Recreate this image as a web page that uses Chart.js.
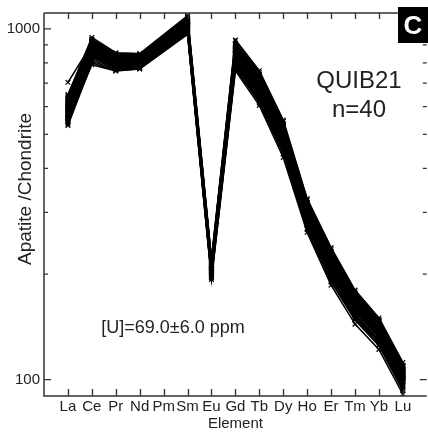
<!DOCTYPE html>
<html>
<head>
<meta charset="utf-8">
<script src="https://cdn.jsdelivr.net/npm/chart.js@4/dist/chart.umd.min.js"></script>
<style>
html,body{margin:0;padding:0;background:#fff;overflow:hidden;}
#wrap{width:432px;height:433px;}
</style>
</head>
<body>
<div id="wrap"><canvas id="c" width="432" height="433" style="width:432px;height:433px"></canvas></div>
<script>
// Categories (chondrite-normalised REE order); Pm has no analyses
const elements = ['La','Ce','Pr','Nd','Pm','Sm','Eu','Gd','Tb','Dy','Ho','Er','Tm','Yb','Lu'];
// y tick values (labelled: 100 and 1000)
const yTicks = [100,200,300,400,500,600,700,800,900,1000];
const yLabels = [100,1000];

// 40 spot analyses, one array per element (index = spot)
const La = [704,650,560,575,620,545,600,590,530,635,555,610,580,540,625,565,595,550,640,585,570,605,535,615,560,590,630,575,548,600,580,615,555,595,645,565,585,620,545,600];
const Ce = [905,935,880,860,900,840,915,870,800,925,850,890,865,830,910,855,880,820,920,875,862,895,810,900,845,885,930,858,835,888,870,905,848,878,945,852,872,912,790,892];
const Pr = [840,850,790,805,820,780,835,800,760,845,785,815,795,775,830,790,810,770,840,805,798,822,765,828,782,812,842,796,778,818,800,826,788,808,855,792,804,832,758,820];
const Nd = [830,845,800,810,815,790,825,805,770,840,795,820,800,785,830,800,812,780,838,808,803,818,775,826,792,810,836,802,788,815,806,822,796,811,850,798,807,828,768,817];
const Pm = [];
const Sm = [1050,1085,1010,1030,1040,990,1060,1020,970,1070,1000,1045,1015,985,1055,1005,1035,980,1065,1025,1012,1048,975,1052,998,1032,1075,1018,992,1042,1022,1050,1003,1028,1090,1008,1024,1058,965,1045];
const Eu = [215,220,205,208,212,198,214,206,195,218,202,210,204,199,213,203,209,197,216,207,205,211,196,212,201,208,217,204,200,210,206,212,202,208,221,203,207,214,193,211];
const Gd = [880,925,850,830,870,800,890,845,770,905,815,860,835,790,880,825,855,785,895,850,838,865,775,872,810,848,910,832,798,862,842,875,818,852,930,822,846,884,760,868];
const Tb = [720,750,690,670,705,650,725,680,615,735,660,700,675,640,712,668,692,630,728,686,677,703,622,708,655,688,740,672,645,698,682,710,662,690,760,665,684,716,605,702];
const Dy = [520,545,500,485,510,470,525,492,440,530,478,505,488,462,515,482,498,455,528,495,490,508,448,512,474,496,535,486,466,503,492,513,479,497,550,480,494,518,430,506];
const Ho = [312,325,300,290,305,283,315,296,268,318,288,303,293,278,308,290,299,275,316,297,294,304,270,306,285,298,320,292,280,301,295,307,287,298,328,289,296,310,263,302];
const Er = [225,235,216,210,220,203,228,213,190,230,207,218,211,198,222,208,215,196,229,214,212,219,192,221,205,214,232,210,200,217,213,221,206,215,238,208,214,224,186,218];
const Tm = [172,178,165,160,168,155,173,162,148,175,158,166,161,152,170,159,164,150,174,163,161,167,149,169,157,163,176,160,153,165,162,168,158,164,180,159,163,171,144,166];
const Yb = [145,148,140,136,142,132,146,138,125,147,134,141,137,129,144,135,139,128,147,138,137,141,126,143,133,138,148,136,130,140,137,143,134,139,150,135,138,145,122,141];
const Lu = [108,110,104,101,106,98,109,102,93,109,99,105,101,96,107,100,103,95,108,102,101,105,94,106,99,103,110,101,97,104,102,106,99,103,112,100,102,107,91,105];

const byElement = {La,Ce,Pr,Nd,Pm,Sm,Eu,Gd,Tb,Dy,Ho,Er,Tm,Yb,Lu};
const nSpots = La.length;

const datasets = [];
for (let i = 0; i < nSpots; i++) {
  datasets.push({
    data: elements.map((el, j) => ({x: j + 1, y: byElement[el][i] !== undefined ? byElement[el][i] : null})),
    borderColor: '#000',
    backgroundColor: '#000',
    borderWidth: 1.6,
    pointStyle: 'crossRot',
    pointRadius: 3.3,
    pointBorderWidth: 1.2,
    pointBorderColor: '#000',
    spanGaps: true,
    tension: 0
  });
}

const FONT = "'Liberation Sans', Arial, sans-serif";
const AX = '#333';

const deco = {
  id: 'deco',
  afterDatasetsDraw(chart) {
    const ctx = chart.ctx;
    const a = chart.chartArea;
    const xs = chart.scales.x, ys = chart.scales.y;
    const rightX = xs.getPixelForValue(16);
    ctx.save();
    ctx.strokeStyle = AX;
    ctx.lineWidth = 1.5;
    // frame (right edge falls just outside the visible window)
    ctx.beginPath();
    ctx.moveTo(a.left, a.top); ctx.lineTo(a.left, a.bottom);
    ctx.lineTo(rightX, a.bottom);
    ctx.moveTo(a.left, a.top); ctx.lineTo(rightX, a.top);
    ctx.stroke();
    // x ticks, inward on top and bottom
    ctx.lineWidth = 1.3;
    ctx.beginPath();
    for (let j = 1; j <= elements.length; j++) {
      const px = Math.round(xs.getPixelForValue(j)) + 0.5;
      ctx.moveTo(px, a.bottom); ctx.lineTo(px, a.bottom - 7);
      ctx.moveTo(px, a.top); ctx.lineTo(px, a.top + 6);
    }
    // y ticks, inward on left and right
    yTicks.forEach(v => {
      const py = ys.getPixelForValue(v);
      const len = yLabels.includes(v) ? 7 : 4;
      ctx.moveTo(a.left, py); ctx.lineTo(a.left + len, py);
      ctx.moveTo(rightX, py); ctx.lineTo(rightX - len, py);
    });
    ctx.stroke();

    // titles
    ctx.fillStyle = '#222';
    ctx.font = '15px ' + FONT;
    ctx.textAlign = 'center';
    ctx.textBaseline = 'alphabetic';
    ctx.fillText('Element', (a.left + rightX) / 2, 428);

    ctx.save();
    ctx.translate(26, 189);
    ctx.rotate(-Math.PI / 2);
    ctx.font = '19px ' + FONT;
    ctx.textBaseline = 'middle';
    ctx.fillText('Apatite /Chondrite', 0, 0);
    ctx.restore();

    // annotations
    ctx.font = '24px ' + FONT;
    ctx.textBaseline = 'middle';
    ctx.fillText('QUIB21', 359, 81);
    ctx.fillText('n=40', 359, 110);
    ctx.font = '18px ' + FONT;
    ctx.fillText('[U]=69.0\u00b16.0 ppm', 173, 328);

    // panel letter
    ctx.fillStyle = '#000';
    ctx.fillRect(398, 7, 34, 36);
    ctx.fillStyle = '#fff';
    ctx.font = 'bold 26px ' + FONT;
    ctx.textBaseline = 'middle';
    ctx.fillText('C', 413, 27);
    ctx.restore();
  }
};

new Chart(document.getElementById('c'), {
  type: 'line',
  data: { datasets },
  options: {
    responsive: false,
    animation: false,
    devicePixelRatio: 1,
    layout: { padding: { top: 8, left: 0, right: 2, bottom: 0 } },
    plugins: { legend: { display: false }, tooltip: { enabled: false } },
    scales: {
      x: {
        type: 'linear',
        min: 0, max: 16,
        grid: { display: false, drawTicks: false },
        border: { display: false },
        afterBuildTicks: s => { s.ticks = elements.map((e, j) => ({ value: j + 1 })); },
        afterFit: s => { s.height = 37; },
        ticks: {
          autoSkip: false, maxRotation: 0, padding: 2,
          color: '#222', font: { family: FONT, size: 15 },
          callback: v => elements[v - 1] || ''
        }
      },
      y: {
        type: 'logarithmic',
        position: 'left',
        min: 89.85, max: 1109.5,
        grid: { display: false, drawTicks: false },
        border: { display: false },
        afterBuildTicks: s => { s.ticks = yTicks.map(v => ({ value: v })); },
        afterFit: s => { s.width = 44; },
        ticks: {
          padding: 4, color: '#222', font: { family: FONT, size: 15 },
          callback: v => yLabels.includes(v) ? String(v) : ''
        }
      }
    }
  },
  plugins: [deco]
});
</script>
</body>
</html>
